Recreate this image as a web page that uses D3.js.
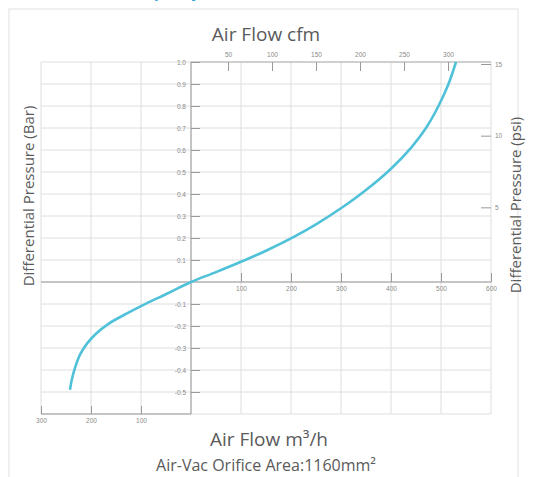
<!DOCTYPE html>
<html>
<head>
<meta charset="utf-8">
<script src="https://cdn.jsdelivr.net/npm/d3@7"></script>
<style>
  body { margin: 0; background: #fff; }
  svg { display: block; font-family: "Open Sans", "Noto Sans", sans-serif; }
  .tick text { fill: #8a8a8a; font-size: 6.5px; }
  .tick line { stroke: #9a9a9a; }
  .domain { display: none; }
  .title { fill: #5a5a5a; }
</style>
</head>
<body>
<div id="chart"></div>
<script>
// curve: flow in m3/h, differential pressure in bar
var flowM3h = [-242, -238, -232, -222, -208, -190, -165, -130, -90, -45, 0, 50, 100, 150, 200, 250, 300, 350, 400, 440, 470, 495, 515, 530];
var pressBar = [-0.49, -0.44, -0.39, -0.33, -0.28, -0.235, -0.19, -0.145, -0.098, -0.05, 0, 0.045, 0.092, 0.142, 0.198, 0.262, 0.335, 0.418, 0.515, 0.61, 0.70, 0.80, 0.90, 1.0];

var barTicks = [1.0, 0.9, 0.8, 0.7, 0.6, 0.5, 0.4, 0.3, 0.2, 0.1, -0.1, -0.2, -0.3, -0.4, -0.5];
var flowTicksPos = [100, 200, 300, 400, 500, 600];
var flowTicksNeg = [-300, -200, -100];
var cfmTicks = [50, 100, 150, 200, 250, 300];
var psiTicks = [5, 10, 15];

var svgWidth = 533;
var svgHeight = 477;

var svg = d3.select("#chart")
  .append("svg")
  .attr("width", svgWidth)
  .attr("height", svgHeight);

// outer frame + cut-off heading
svg.append("rect")
  .attr("x", 9).attr("y", 9)
  .attr("width", 509).attr("height", 490)
  .attr("fill", "none")
  .attr("stroke", "#e2e2e2");

svg.append("text")
  .attr("x", 200).attr("y", -2)
  .attr("text-anchor", "end")
  .attr("font-size", 15)
  .attr("font-weight", "bold")
  .attr("fill", "#2a9fd8")
  .text("Air-Vac Flow Capacity");

var x = d3.scaleLinear().domain([-300, 600]).range([41, 491]);
var y = d3.scaleLinear().domain([-0.6, 1.0]).range([414, 62]);
var cfm = d3.scaleLinear().domain([50, 300]).range([228, 448]);
var psi = d3.scaleLinear().domain([0, 15]).range([279, 64]);

// grid
var grid = svg.append("g");
grid.selectAll("line.v").data(d3.range(-300, 601, 100)).enter()
  .append("line")
  .attr("x1", d => x(d)).attr("x2", d => x(d))
  .attr("y1", y(1.0)).attr("y2", y(-0.6))
  .attr("stroke", "#dedede");
grid.selectAll("line.h").data(d3.range(-6, 11).map(d => d / 10)).enter()
  .append("line")
  .attr("x1", x(-300)).attr("x2", x(600))
  .attr("y1", d => y(d)).attr("y2", d => y(d))
  .attr("stroke", "#dedede");

// main axis lines
svg.append("line")
  .attr("x1", x(0)).attr("x2", x(0))
  .attr("y1", y(1.0)).attr("y2", y(-0.6))
  .attr("stroke", "#9a9a9a");
svg.append("line")
  .attr("x1", x(-300)).attr("x2", x(600))
  .attr("y1", y(0)).attr("y2", y(0))
  .attr("stroke", "#9a9a9a");
svg.append("line")
  .attr("x1", x(-300)).attr("x2", x(0))
  .attr("y1", y(-0.6)).attr("y2", y(-0.6))
  .attr("stroke", "#9a9a9a");
svg.append("line")
  .attr("x1", x(0)).attr("x2", x(600))
  .attr("y1", y(1.0)).attr("y2", y(1.0))
  .attr("stroke", "#b0b0b0");

// bar axis: labels left of the centre line, ticks to the right
var barAxis = svg.append("g")
  .attr("transform", `translate(${x(0)},0)`)
  .call(d3.axisRight(y).tickValues(barTicks).tickSize(9)
    .tickFormat(d => d3.format(".1f")(d).replace("−", "-")));
barAxis.selectAll("text")
  .attr("x", -5)
  .attr("text-anchor", "end");

// flow axis, positive side on the zero line
svg.append("g")
  .attr("transform", `translate(0,${y(0)})`)
  .call(d3.axisBottom(x).tickValues(flowTicksPos).tickSizeInner(-9).tickPadding(4));

// flow axis, negative side at the bottom
svg.append("g")
  .attr("transform", `translate(0,${y(-0.6)})`)
  .call(d3.axisBottom(x).tickValues(flowTicksNeg).tickSizeInner(-8).tickPadding(4)
    .tickFormat(d => Math.abs(d)));

// cfm axis on top
svg.append("g")
  .attr("transform", `translate(0,${y(1.0)})`)
  .call(d3.axisTop(cfm).tickValues(cfmTicks).tickSizeInner(-9).tickPadding(5));

// psi axis on the right
var psiAxis = svg.append("g")
  .attr("transform", `translate(${x(600)},0)`)
  .call(d3.axisLeft(psi).tickValues(psiTicks).tickSize(10));
psiAxis.selectAll("text")
  .attr("x", 4)
  .attr("text-anchor", "start");

// curve
var pts = flowM3h.map((d, i) => [d, pressBar[i]]);
var line = d3.line()
  .x(d => x(d[0]))
  .y(d => y(d[1]))
  .curve(d3.curveCatmullRom.alpha(0.5));
svg.append("path")
  .datum(pts)
  .attr("d", line)
  .attr("fill", "none")
  .attr("stroke", "#4fc1d9")
  .attr("stroke-width", 2.6);

// titles
svg.append("text")
  .attr("class", "title")
  .attr("x", 266).attr("y", 41)
  .attr("text-anchor", "middle")
  .attr("font-size", 19)
  .text("Air Flow cfm");

svg.append("text")
  .attr("class", "title")
  .attr("x", 269).attr("y", 446)
  .attr("text-anchor", "middle")
  .attr("font-size", 19)
  .text("Air Flow m³/h");

svg.append("text")
  .attr("class", "title")
  .attr("x", 266).attr("y", 471)
  .attr("text-anchor", "middle")
  .attr("font-size", 16)
  .text("Air-Vac Orifice Area:1160mm²");

svg.append("text")
  .attr("class", "title")
  .attr("transform", "translate(34,196) rotate(-90)")
  .attr("text-anchor", "middle")
  .attr("font-size", 15)
  .text("Differential Pressure (Bar)");

svg.append("text")
  .attr("class", "title")
  .attr("transform", "translate(521,205) rotate(-90)")
  .attr("text-anchor", "middle")
  .attr("font-size", 15)
  .text("Differential Pressure (psi)");
</script>
</body>
</html>
